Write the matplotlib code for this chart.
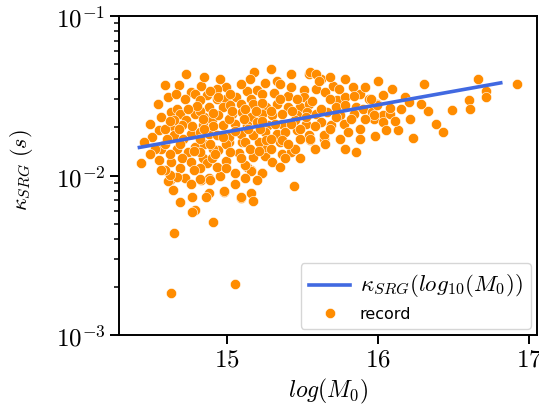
import matplotlib
matplotlib.use('Agg')
import matplotlib.pyplot as plt

# log(M0) and kappa_SRG(s)
log_m0 = [
    14.73, 14.59, 14.68, 14.83, 14.54, 14.76, 14.79, 14.87, 14.72, 14.82,
    14.63, 14.67, 14.88, 14.93, 14.69, 14.79, 14.85, 14.73, 14.64, 14.70,
    14.84, 14.90, 14.55, 14.50, 14.45, 14.65, 14.76, 14.82, 14.88, 14.91,
    14.43, 14.55, 14.63, 14.56, 14.67, 14.74, 14.70, 14.76, 14.84, 14.87,
    14.82, 14.69, 14.62, 14.67, 14.72, 14.83, 14.88, 14.64, 14.69, 14.77,
    14.88, 14.86, 14.79, 14.77, 14.91, 14.65,
    14.61, 14.98, 15.09, 15.16, 15.17, 15.23, 15.16, 15.44, 15.05, 14.63,
    14.82, 14.89, 14.95, 14.67, 14.62,
    15.08, 14.99, 15.17, 15.25, 15.13, 15.16, 15.23, 15.30, 15.35, 15.36,
    15.42, 15.25, 15.35, 15.55, 14.98, 15.09, 14.93, 14.94, 15.01, 15.10,
    15.21,
    15.85, 15.64,
    15.18, 15.15, 15.25, 15.33, 15.35, 15.54, 14.99, 14.93, 15.20, 15.13,
    15.31, 15.51, 15.40, 14.99, 15.06, 15.16, 15.23, 15.51, 15.09, 14.97,
    15.02, 15.17, 15.26, 15.33, 15.40, 15.48, 15.54, 14.94, 15.03, 15.10,
    15.16, 15.23, 15.30, 15.36, 15.46, 15.53, 14.97, 15.05, 15.13, 15.20,
    15.27, 15.36, 15.45, 15.52, 14.93, 15.01, 15.09, 15.17, 15.25, 15.33,
    15.38, 15.46, 15.54, 14.99, 15.12, 15.26, 15.36,
    15.55, 15.62, 15.78, 16.00, 15.59, 15.70, 15.83, 16.09, 15.65, 15.88,
    16.03, 15.73, 15.78, 15.84, 15.94, 15.72, 15.78, 15.85, 15.90, 15.99,
    16.18, 15.59, 15.66, 15.75, 15.84, 15.96, 16.03, 16.08, 16.08, 15.62,
    15.69, 15.77, 15.97, 16.03, 16.05, 16.13, 15.80, 15.64, 15.55,
    16.30, 16.66, 16.71, 16.71, 16.60, 16.61, 16.92, 16.20, 16.33, 16.49,
    16.38, 16.43, 16.23, 15.97, 15.99, 15.95,
    15.59, 15.61, 15.12, 15.20,
    14.59, 14.79, 14.85, 14.91, 14.62, 14.82, 14.90, 14.78, 14.59, 14.65,
    14.56, 14.61, 14.49, 14.59, 14.71, 14.77, 14.82, 14.89, 14.91, 14.66,
    14.80, 14.52, 14.69, 14.89, 14.60, 14.49, 14.82, 14.85,
    15.01, 15.11, 15.29, 15.42, 15.48, 15.45, 15.38, 15.29, 15.15, 15.05,
    15.22, 15.32, 15.12, 15.02, 15.23, 15.42, 15.46, 15.09, 15.52, 15.48,
    15.21, 15.02, 14.92, 15.48, 15.58, 15.58, 15.56,
    15.68, 15.75, 15.88, 15.91, 15.88, 15.98, 16.11, 16.15, 16.21, 16.28,
    15.82, 15.68, 15.65, 15.78, 15.74, 15.91,
    14.76, 15.05, 15.05, 15.12, 14.56, 14.99,
    14.95, 14.85, 15.42, 15.68, 15.29,
    14.62, 14.74, 14.84, 14.94, 15.03, 15.19, 15.35, 15.43, 15.14, 15.29,
    15.40, 15.09, 15.62, 15.72, 14.68, 14.78, 14.97, 15.23,
]
kappa = [
    0.0434, 0.0372, 0.0367, 0.0362, 0.0279, 0.0333, 0.0326, 0.0318, 0.0303, 0.0296,
    0.0250, 0.0262, 0.0268, 0.0303, 0.0244, 0.0244, 0.0233, 0.0222, 0.0203, 0.0207,
    0.0207, 0.0222, 0.0192, 0.0175, 0.0162, 0.0179, 0.0183, 0.0188, 0.0183, 0.0203,
    0.0119, 0.0125, 0.0122, 0.0147, 0.0147, 0.0140, 0.0128, 0.0122, 0.0128, 0.0119,
    0.0111, 0.0111, 0.00935, 0.00983, 0.00958, 0.00935, 0.00958, 0.00810, 0.00687, 0.00737,
    0.00772, 0.00737, 0.00607, 0.00593, 0.00514, 0.00438,
    0.00922, 0.00789, 0.00727, 0.00772, 0.00694, 0.0104, 0.0108, 0.00861, 0.00210, 0.00183,
    0.00948, 0.00935, 0.0100, 0.00983, 0.0101,
    0.0139, 0.0123, 0.0131, 0.0133, 0.0113, 0.0107, 0.0104, 0.0121, 0.0113, 0.0136,
    0.0141, 0.0151, 0.0162, 0.0166, 0.00801, 0.00737, 0.0113, 0.0144, 0.0162, 0.0162,
    0.0162,
    0.0140, 0.0170,
    0.0445, 0.0404, 0.0379, 0.0391, 0.0376, 0.0430, 0.0358, 0.0350, 0.0345, 0.0341,
    0.0329, 0.0345, 0.0313, 0.0303, 0.0311, 0.0303, 0.0326, 0.0311, 0.0282, 0.0268,
    0.0275, 0.0282, 0.0268, 0.0282, 0.0268, 0.0268, 0.0282, 0.0238, 0.0244, 0.0250,
    0.0233, 0.0244, 0.0238, 0.0244, 0.0238, 0.0250, 0.0207, 0.0211, 0.0207, 0.0217,
    0.0207, 0.0211, 0.0222, 0.0211, 0.0179, 0.0175, 0.0183, 0.0179, 0.0188, 0.0183,
    0.0188, 0.0192, 0.0179, 0.0158, 0.0162, 0.0166, 0.0166,
    0.0445, 0.0404, 0.0404, 0.0391, 0.0350, 0.0363, 0.0358, 0.0350, 0.0333, 0.0326,
    0.0321, 0.0299, 0.0311, 0.0313, 0.0300, 0.0268, 0.0275, 0.0268, 0.0262, 0.0282,
    0.0311, 0.0244, 0.0250, 0.0238, 0.0244, 0.0250, 0.0238, 0.0244, 0.0265, 0.0217,
    0.0207, 0.0211, 0.0227, 0.0217, 0.0192, 0.0194, 0.0188, 0.0179, 0.0170,
    0.0376, 0.0404, 0.0341, 0.0311, 0.0296, 0.0262, 0.0376, 0.0291, 0.0254, 0.0256,
    0.0209, 0.0187, 0.0172, 0.0238, 0.0275, 0.0303,
    0.0434, 0.0393, 0.0116, 0.00935,
    0.0158, 0.0152, 0.0158, 0.0147, 0.0137, 0.0141, 0.0128, 0.0108, 0.0108, 0.0222,
    0.0234, 0.0312, 0.0211, 0.0197, 0.0170, 0.0203, 0.0255, 0.0339, 0.0247, 0.0326,
    0.0271, 0.0147, 0.0158, 0.0158, 0.0170, 0.0137, 0.0170, 0.0197,
    0.0227, 0.0227, 0.0255, 0.0211, 0.0170, 0.0147, 0.0128, 0.0147, 0.0147, 0.0191,
    0.0197, 0.0211, 0.0262, 0.0326, 0.0286, 0.0358, 0.0303, 0.0376, 0.0234, 0.0197,
    0.0143, 0.0141, 0.0137, 0.0128, 0.0147, 0.0203, 0.0294,
    0.0197, 0.0170, 0.0197, 0.0227, 0.0170, 0.0177, 0.0221, 0.0262, 0.0227, 0.0282,
    0.0227, 0.0303, 0.0158, 0.0147, 0.0350, 0.0358,
    0.00891, 0.0103, 0.00891, 0.00958, 0.0108, 0.0111,
    0.0404, 0.0416, 0.0434, 0.0416, 0.0467,
    0.0220, 0.0262, 0.0227, 0.0311, 0.0255, 0.0255, 0.0303, 0.0255, 0.0197, 0.0170,
    0.0158, 0.0128, 0.0262, 0.0233, 0.0197, 0.0143, 0.0175, 0.0221,
]

# fitted kappa_SRG(log10(M0)) line, end points
fit_x = [14.42, 16.81]
fit_y = [0.0150, 0.0381]

plt.rcParams['font.family'] = 'serif'
plt.rcParams['font.serif'] = ['cmr10']
plt.rcParams['mathtext.fontset'] = 'cm'
plt.rcParams['axes.formatter.use_mathtext'] = True
plt.rcParams['axes.unicode_minus'] = False

fig = plt.figure(figsize=(5.39, 4.14), dpi=100)
ax = fig.add_axes([0.2208, 0.1884, 0.7755, 0.7705])

ax.plot(fit_x, fit_y, color='royalblue', lw=2.6,
        label=r'$\kappa_{SRG}(log_{10}(M_0))$', zorder=3)
ax.scatter(log_m0, kappa, s=54, color='darkorange', edgecolors='white',
           linewidths=0.4, label='record', zorder=2)

ax.set_yscale('log')
ax.set_ylim(1e-3, 1e-1)
ax.set_xlim(14.285, 17.05)
ax.set_xticks([15, 16, 17])

ax.set_xlabel(r'$log(M_0)$', fontsize=17, labelpad=4)
ax.set_ylabel(r'$\kappa_{SRG}\ (s)$', fontsize=16)
ax.yaxis.set_label_coords(-0.20, 0.52)

for s in ax.spines.values():
    s.set_linewidth(1.4)
ax.tick_params(which='major', labelsize=18, length=6.3, width=1.4)
ax.tick_params(which='minor', length=3.6, width=1.1)

leg = ax.legend(loc='lower right', prop={'family': 'DejaVu Sans', 'size': 11.5},
                handlelength=2.6, borderpad=0.5, labelspacing=0.45,
                handletextpad=0.6, borderaxespad=0.4)
leg.get_texts()[0].set_fontsize(16.5)

fig.savefig('out.png', dpi=100)
